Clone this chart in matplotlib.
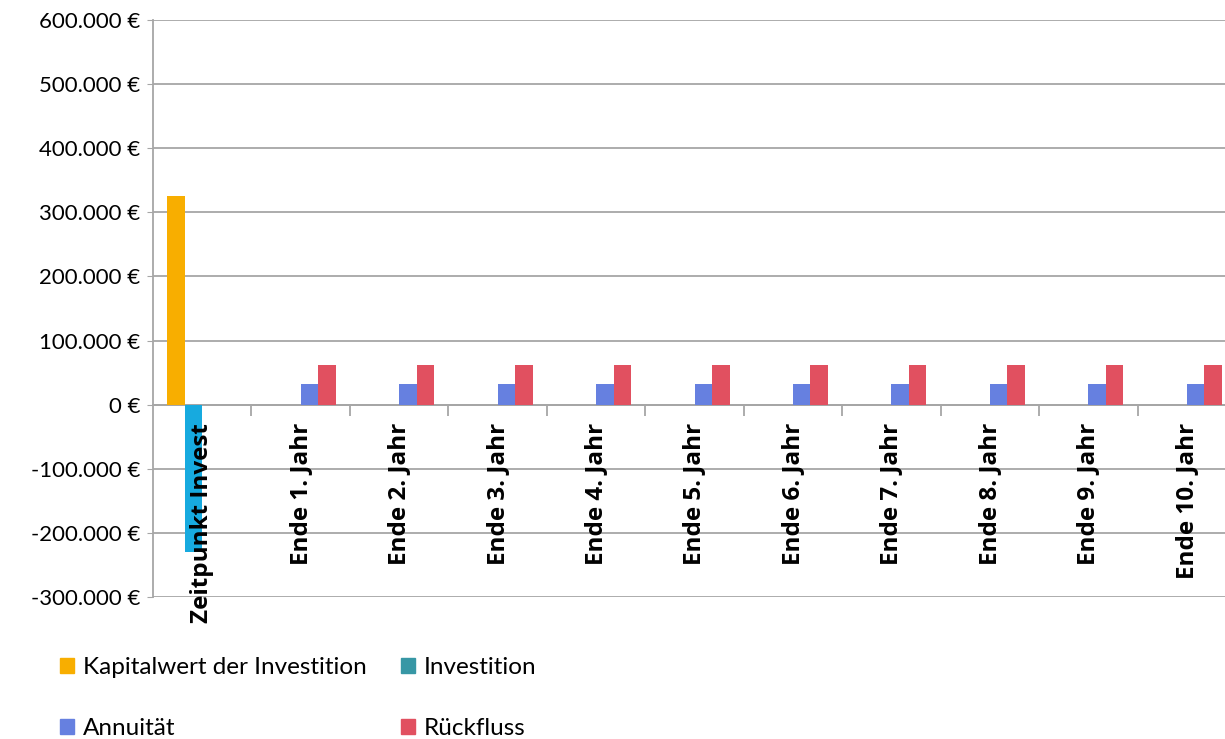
import numpy as np
import matplotlib.pyplot as plt
from matplotlib.patches import Patch
from matplotlib.ticker import FuncFormatter, FixedLocator

categories = ["Zeitpunkt Invest"] + [f"Ende {i}. Jahr" for i in range(1, 11)]

kapitalwert = [326000] + [0] * 10
investition = [-230000] + [0] * 10
annuitaet = [0] + [32300] * 10
rueckfluss = [0] + [62000] * 10

plt.rcParams["font.family"] = ["Lato", "DejaVu Sans"]

fig = plt.figure(figsize=(12.25, 7.39), dpi=100)
ax = fig.add_axes([153 / 1225, 1 - 597 / 739, 1083 / 1225, 577 / 739])

x = np.arange(len(categories))
w = 0.178
offs = [-1.5 * w, -0.5 * w, 0.5 * w, 1.5 * w]

ax.bar(x + offs[0], kapitalwert, w, color="#F8AE00", zorder=3)
ax.bar(x + offs[1], investition, w, color="#17AADF", zorder=3)
ax.bar(x + offs[2], annuitaet, w, color="#6680E0", zorder=3)
ax.bar(x + offs[3], rueckfluss, w, color="#E15060", zorder=3)

ax.set_xlim(-0.5, 10.5)
ax.set_ylim(-300000, 600000)
ax.set_yticks(np.arange(-300000, 600001, 100000))


def euro(v, pos):
    return f"{v:,.0f} €".replace(",", ".")


ax.yaxis.set_major_formatter(FuncFormatter(euro))
ax.tick_params(axis="y", labelsize=16, length=4, color="#A6A6A6", pad=5)
ax.grid(axis="y", color="#A6A6A6", linewidth=1.3, zorder=0)

ax.spines["top"].set_visible(False)
ax.spines["right"].set_visible(False)
ax.spines["left"].set_color("#A6A6A6")
ax.spines["left"].set_linewidth(1.3)
ax.spines["bottom"].set_position(("data", 0))
ax.spines["bottom"].set_color("#A6A6A6")
ax.spines["bottom"].set_linewidth(1.3)
ax.spines["bottom"].set_zorder(2)

# category labels hang below the zero line and sit on top of the bars
ax.set_xticks(x)
ax.set_xticklabels([])
ax.tick_params(axis="x", which="major", length=0)
ax.xaxis.set_minor_locator(FixedLocator(x[:-1] + 0.5))
ax.tick_params(axis="x", which="minor", length=8, color="#A6A6A6", width=1.3)
for xi, lab in zip(x, categories):
    ax.annotate(lab, (xi, 0), xytext=(0, -13), textcoords="offset points",
                rotation=90, ha="center", va="top", fontsize=17.5,
                fontweight="bold", family="Open Sans", zorder=5,
                annotation_clip=False)

# legend fills column-wise, so order handles to read row by row
handles = [
    Patch(color="#F8AE00", label="Kapitalwert der Investition"),
    Patch(color="#6680E0", label="Annuität"),
    Patch(color="#3797A5", label="Investition"),
    Patch(color="#E15060", label="Rückfluss"),
]
fig.legend(handles=handles, ncol=2, loc="upper left",
           bbox_to_anchor=(38 / 1225, 1 - 635 / 739), frameon=False,
           fontsize=17.5, handlelength=0.6, handleheight=0.6,
           handletextpad=0.35, labelspacing=1.65, columnspacing=1.4)

fig.savefig("out.png", dpi=100)
